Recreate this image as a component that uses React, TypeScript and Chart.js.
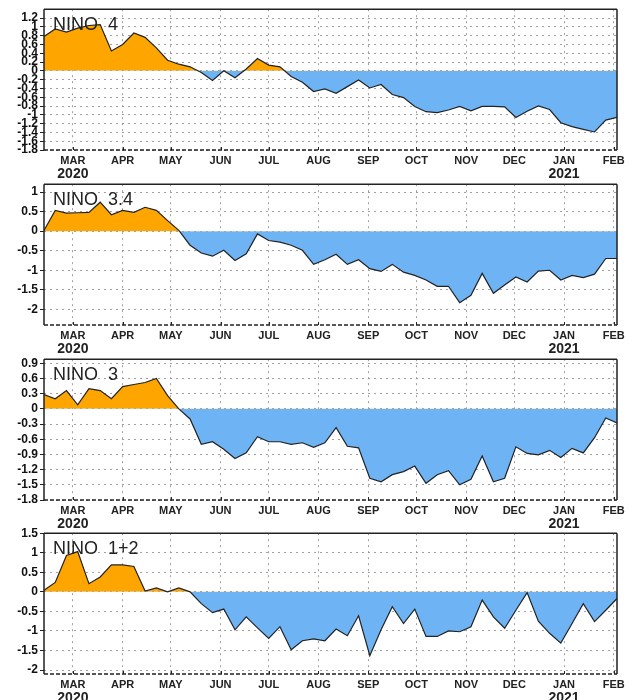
import React, { useEffect, useRef } from "react";
import { Chart, registerables } from "chart.js";
Chart.register(...registerables);

// Weekly (Wednesday-centred) dates
const weeks = [
  "2020-02-12", "2020-02-19", "2020-02-26",
  "2020-03-04", "2020-03-11", "2020-03-18", "2020-03-25",
  "2020-04-01", "2020-04-08", "2020-04-15", "2020-04-22", "2020-04-29",
  "2020-05-06", "2020-05-13", "2020-05-20", "2020-05-27",
  "2020-06-03", "2020-06-10", "2020-06-17", "2020-06-24",
  "2020-07-01", "2020-07-08", "2020-07-15", "2020-07-22", "2020-07-29",
  "2020-08-05", "2020-08-12", "2020-08-19", "2020-08-26",
  "2020-09-02", "2020-09-09", "2020-09-16", "2020-09-23", "2020-09-30",
  "2020-10-07", "2020-10-14", "2020-10-21", "2020-10-28",
  "2020-11-04", "2020-11-11", "2020-11-18", "2020-11-25",
  "2020-12-02", "2020-12-09", "2020-12-16", "2020-12-23", "2020-12-30",
  "2021-01-06", "2021-01-13", "2021-01-20", "2021-01-27",
  "2021-02-03",
];

const monthTicks = [
  "2020-03-01", "2020-04-01", "2020-05-01", "2020-06-01", "2020-07-01", "2020-08-01",
  "2020-09-01", "2020-10-01", "2020-11-01", "2020-12-01", "2021-01-01", "2021-02-01",
];
const monthLabels = ["MAR", "APR", "MAY", "JUN", "JUL", "AUG", "SEP", "OCT", "NOV", "DEC", "JAN", "FEB"];
const yearTicks = ["2020-03-01", "2021-01-01"];
const yearLabels = ["2020", "2021"];

const nino4 = [
  0.78, 0.95, 0.88, 0.97, 1.03, 1.05, 0.45, 0.6, 0.86, 0.76, 0.52, 0.24, 0.15, 0.09,
  -0.04, -0.22, 0.0, -0.16, 0.04, 0.28, 0.13, 0.09, -0.13, -0.26, -0.47, -0.41, -0.51,
  -0.36, -0.21, -0.39, -0.31, -0.54, -0.61, -0.81, -0.93, -0.95, -0.89, -0.81, -0.91,
  -0.81, -0.81, -0.82, -1.06, -0.92, -0.8, -0.88, -1.18, -1.27, -1.33, -1.39, -1.12, -1.06,
];
const nino34 = [
  0.02, 0.53, 0.46, 0.47, 0.48, 0.74, 0.42, 0.53, 0.48, 0.61, 0.53, 0.27, 0.02,
  -0.36, -0.56, -0.64, -0.49, -0.75, -0.58, -0.07, -0.24, -0.28, -0.36, -0.49, -0.85,
  -0.73, -0.59, -0.85, -0.73, -0.96, -1.03, -0.85, -1.05, -1.13, -1.25, -1.41, -1.41,
  -1.83, -1.64, -1.08, -1.59, -1.38, -1.17, -1.3, -1.02, -1.0, -1.25, -1.13, -1.19, -1.1, -0.7, -0.7,
];
const nino3 = [
  0.28, 0.2, 0.36, 0.08, 0.4, 0.36, 0.2, 0.44, 0.48, 0.52, 0.6, 0.26, 0.0,
  -0.2, -0.7, -0.65, -0.8, -0.98, -0.87, -0.55, -0.65, -0.65, -0.7, -0.67, -0.76,
  -0.67, -0.37, -0.74, -0.77, -1.37, -1.44, -1.3, -1.24, -1.13, -1.47, -1.3, -1.22,
  -1.5, -1.39, -0.93, -1.44, -1.37, -0.75, -0.88, -0.91, -0.82, -0.96, -0.78, -0.87, -0.57, -0.18, -0.28,
];
const nino12 = [
  0.04, 0.24, 0.93, 1.03, 0.21, 0.38, 0.69, 0.69, 0.65, 0.02, 0.1, 0.0, 0.1, 0.0,
  -0.3, -0.53, -0.44, -0.97, -0.64, -0.92, -1.19, -0.89, -1.48, -1.25, -1.2,
  -1.25, -0.95, -1.12, -0.61, -1.63, -0.97, -0.38, -0.81, -0.44, -1.14, -1.14, -1.0,
  -1.02, -0.89, -0.21, -0.64, -0.93, -0.47, -0.02, -0.75, -1.06, -1.31, -0.81, -0.3, -0.76, -0.47, -0.17,
];

const nino4Ticks = [1.2, 1, 0.8, 0.6, 0.4, 0.2, 0, -0.2, -0.4, -0.6, -0.8, -1, -1.2, -1.4, -1.6, -1.8];
const nino34Ticks = [1, 0.5, 0, -0.5, -1, -1.5, -2];
const nino3Ticks = [0.9, 0.6, 0.3, 0, -0.3, -0.6, -0.9, -1.2, -1.5, -1.8];
const nino12Ticks = [1.5, 1, 0.5, 0, -0.5, -1, -1.5, -2];

const titles = ["NINO  4", "NINO  3.4", "NINO  3", "NINO  1+2"];
const seriesList = [nino4, nino34, nino3, nino12];
const tickList = [nino4Ticks, nino34Ticks, nino3Ticks, nino12Ticks];
const yMins = [-1.8, -2.4, -1.8, -2.1];
const yMaxs = [1.4, 1.2, 0.98, 1.5];

// layout (not data)
const panelTops = [0, 175, 350, 524];
const CANVAS_W = 635;
const CANVAS_H = 190;

const ORANGE = "rgb(255,165,0)";
const BLUE = "rgb(110,180,245)";
const GRID = "rgba(150,150,150,0.9)";
const FONT = '"Liberation Sans", Arial, sans-serif';

const dayOf = (s: string) => (Date.parse(s) - Date.parse(weeks[0])) / 86400000;

const decorPlugin = {
  id: "decor",
  afterDraw(chart: any, _args: any, opts: any) {
    const { ctx, chartArea: a } = chart;
    const x = chart.scales.x;
    ctx.save();
    ctx.strokeStyle = "#222";
    ctx.lineWidth = 1.5;
    ctx.setLineDash([]);
    ctx.beginPath();
    ctx.moveTo(a.left, a.top);
    ctx.lineTo(a.left, a.bottom);
    ctx.moveTo(a.right, a.top);
    ctx.lineTo(a.right, a.bottom);
    ctx.moveTo(a.left, a.top);
    ctx.lineTo(a.right, a.top);
    ctx.stroke();
    ctx.setLineDash([4, 2]);
    ctx.beginPath();
    ctx.moveTo(a.left, a.bottom);
    ctx.lineTo(a.right, a.bottom);
    ctx.stroke();
    ctx.setLineDash([]);
    ctx.lineWidth = 1;
    ctx.beginPath();
    monthTicks.forEach((m) => {
      const px = Math.round(x.getPixelForValue(dayOf(m))) + 0.5;
      ctx.moveTo(px, a.bottom);
      ctx.lineTo(px, a.bottom - 3);
    });
    ctx.stroke();
    ctx.fillStyle = "#222";
    ctx.font = `bold 14px ${FONT}`;
    ctx.textAlign = "center";
    ctx.textBaseline = "middle";
    yearTicks.forEach((d, i) => {
      ctx.fillText(yearLabels[i], x.getPixelForValue(dayOf(d)), a.bottom + 24);
    });
    ctx.font = `18px ${FONT}`;
    ctx.textAlign = "left";
    ctx.textBaseline = "alphabetic";
    ctx.fillText(opts.title, a.left + 9, a.top + 21);
    ctx.restore();
  },
};

function Panel({ index }: { index: number }) {
  const ref = useRef<HTMLCanvasElement>(null);
  useEffect(() => {
    const values = seriesList[index];
    const ticks = tickList[index];
    const chart = new Chart(ref.current as HTMLCanvasElement, {
      type: "line",
      data: {
        datasets: [
          {
            data: weeks.map((w, i) => ({ x: dayOf(w), y: values[i] })),
            borderColor: "#222",
            borderWidth: 1.2,
            pointRadius: 0,
            tension: 0,
            fill: { target: "origin", above: ORANGE, below: BLUE },
          } as any,
        ],
      },
      options: {
        animation: false,
        responsive: false,
        devicePixelRatio: 1,
        layout: { padding: { top: 7, right: 18, left: 0, bottom: 0 } },
        plugins: {
          legend: { display: false },
          tooltip: { enabled: false },
          decor: { title: titles[index] },
        } as any,
        scales: {
          x: {
            type: "linear",
            min: dayOf(weeks[0]),
            max: dayOf(weeks[weeks.length - 1]),
            z: 1,
            afterBuildTicks: (s: any) => {
              s.ticks = monthTicks.map((m) => ({ value: dayOf(m) }));
            },
            afterFit: (s: any) => {
              s.height = CANVAS_H - 7 - 143;
            },
            grid: {
              color: GRID,
              lineWidth: 1,
              drawTicks: false,
            },
            border: { display: false, dash: [2, 4] },
            ticks: {
              autoSkip: false,
              maxRotation: 0,
              padding: 4,
              color: "#222",
              font: { family: FONT, size: 11, weight: "bold" },
              callback: (v: any) => {
                const i = monthTicks.findIndex((m) => dayOf(m) === v);
                return i >= 0 ? monthLabels[i] : "";
              },
            },
          },
          y: {
            type: "linear",
            min: yMins[index],
            max: yMaxs[index],
            z: 1,
            afterBuildTicks: (s: any) => {
              s.ticks = ticks.map((v) => ({ value: v }));
            },
            afterFit: (s: any) => {
              s.width = 44;
            },
            grid: {
              color: GRID,
              lineWidth: 1,
              drawTicks: true,
              tickLength: 4,
              tickColor: "#222",
              tickWidth: 1,
              tickBorderDash: [],
            },
            border: { display: false, dash: [2, 4] },
            ticks: {
              autoSkip: false,
              padding: 2,
              color: "#111",
              font: { family: FONT, size: 12, weight: "bold" },
              callback: (v: any) => String(v),
            },
          },
        },
      },
      plugins: [decorPlugin as any],
    });
    return () => chart.destroy();
  }, [index]);
  return (
    <canvas
      ref={ref}
      width={CANVAS_W}
      height={CANVAS_H}
      style={{
        position: "absolute",
        left: 0,
        top: panelTops[index],
        width: CANVAS_W,
        height: CANVAS_H,
        display: "block",
      }}
    />
  );
}

export default function App() {
  return (
    <div
      style={{
        position: "absolute",
        left: 0,
        top: 0,
        width: 635,
        height: 700,
        overflow: "hidden",
        background: "#fff",
      }}
    >
      {[0, 1, 2, 3].map((i) => (
        <Panel key={i} index={i} />
      ))}
    </div>
  );
}
